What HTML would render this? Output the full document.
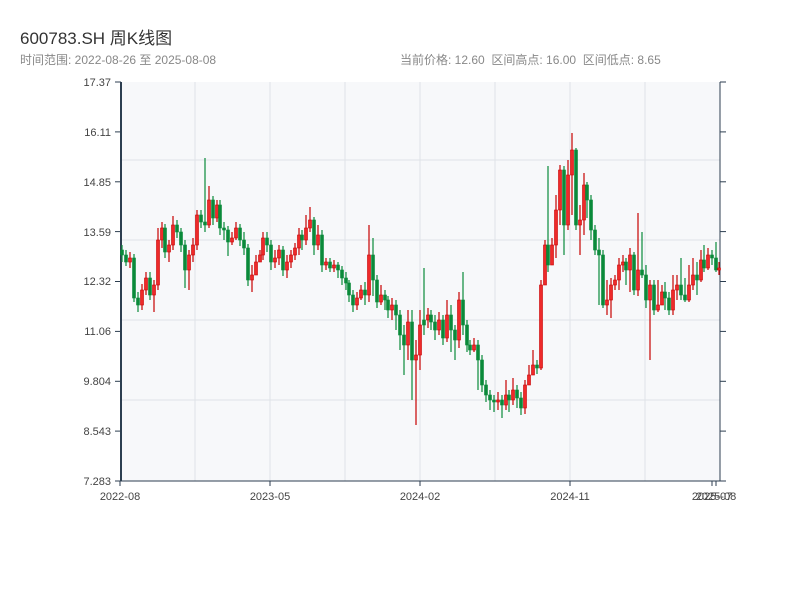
<!DOCTYPE html>
<html><head><meta charset="utf-8"><style>
body{margin:0;background:#fff;width:800px;height:600px;overflow:hidden;font-family:"Liberation Sans","Noto Sans CJK SC",sans-serif;}
.t{position:absolute;left:20px;top:24px;font-size:17px;color:#333;}
.s{position:absolute;top:51px;font-size:12px;color:#888;}
svg{position:absolute;left:0;top:0}
.g line{stroke:#dfe2e8;stroke-width:1}
.ax line{stroke:#2c3e50}
.lab text{font-size:11px;fill:#444}
.R line{stroke:#c80000;stroke-width:1.2}
.R rect{fill:#ee2a2a;stroke:#c80000;stroke-width:0.6}
.G line{stroke:#0a8a3a;stroke-width:1.2}
.G rect{fill:#0a8a3a;stroke:#0a8a3a;stroke-width:0.6}
</style></head><body>
<div class="t">600783.SH 周K线图</div>
<div class="s" style="left:20px">时间范围: 2022-08-26 至 2025-08-08</div>
<div class="s" style="left:400px">当前价格: 12.60 &nbsp;区间高点: 16.00 &nbsp;区间低点: 8.65</div>
<svg width="800" height="600">
<rect x="121" y="82" width="599" height="399" fill="#f7f8fa"/>
<g class="g">
<line x1="121" x2="720" y1="160" y2="160"/><line x1="121" x2="720" y1="240" y2="240"/><line x1="121" x2="720" y1="320" y2="320"/><line x1="121" x2="720" y1="400" y2="400"/>
<line x1="195" x2="195" y1="82" y2="481"/><line x1="270" x2="270" y1="82" y2="481"/><line x1="345" x2="345" y1="82" y2="481"/><line x1="420" x2="420" y1="82" y2="481"/><line x1="495" x2="495" y1="82" y2="481"/><line x1="570" x2="570" y1="82" y2="481"/><line x1="645" x2="645" y1="82" y2="481"/>
</g>
<g class="ax">
<line x1="115" x2="121" y1="82" y2="82"/><line x1="115" x2="121" y1="131.9" y2="131.9"/><line x1="115" x2="121" y1="181.8" y2="181.8"/><line x1="115" x2="121" y1="231.6" y2="231.6"/><line x1="115" x2="121" y1="281.5" y2="281.5"/><line x1="115" x2="121" y1="331.4" y2="331.4"/><line x1="115" x2="121" y1="381.3" y2="381.3"/><line x1="115" x2="121" y1="431.1" y2="431.1"/><line x1="115" x2="121" y1="481" y2="481"/>
<line x1="720" x2="726" y1="82" y2="82"/><line x1="720" x2="726" y1="131.9" y2="131.9"/><line x1="720" x2="726" y1="181.8" y2="181.8"/><line x1="720" x2="726" y1="231.6" y2="231.6"/><line x1="720" x2="726" y1="281.5" y2="281.5"/><line x1="720" x2="726" y1="331.4" y2="331.4"/><line x1="720" x2="726" y1="381.3" y2="381.3"/><line x1="720" x2="726" y1="431.1" y2="431.1"/><line x1="720" x2="726" y1="481" y2="481"/>
<line x1="121" x2="121" y1="82" y2="481" stroke-width="2"/>
<line x1="720" x2="720" y1="82" y2="481"/>
<line x1="121" x2="720" y1="481" y2="481"/>
<line x1="120" x2="120" y1="481" y2="486"/><line x1="270" x2="270" y1="481" y2="486"/><line x1="420" x2="420" y1="481" y2="486"/><line x1="570" x2="570" y1="481" y2="486"/><line x1="712" x2="712" y1="481" y2="486"/><line x1="716" x2="716" y1="481" y2="486"/>
</g>
<g class="lab" text-anchor="end">
<text x="111" y="86">17.37</text><text x="111" y="136">16.11</text><text x="111" y="186">14.85</text><text x="111" y="236">13.59</text><text x="111" y="285">12.32</text><text x="111" y="335">11.06</text><text x="111" y="385">9.804</text><text x="111" y="435">8.543</text><text x="111" y="485">7.283</text>
</g>
<g class="lab" text-anchor="middle">
<text x="120" y="500">2022-08</text><text x="270" y="500">2023-05</text><text x="420" y="500">2024-02</text><text x="570" y="500">2024-11</text><text x="712" y="500">2025-07</text><text x="716" y="500">2025-08</text>
</g>
<g class="G"><line x1="122" x2="122" y1="245" y2="262"/><rect x="120.5" y="250" width="3" height="5"/></g>
<g class="G"><line x1="126" x2="126" y1="250" y2="266"/><rect x="124.5" y="255" width="3" height="7"/></g>
<g class="R"><line x1="130" x2="130" y1="252" y2="268"/><rect x="128.5" y="258" width="3" height="4"/></g>
<g class="G"><line x1="134" x2="134" y1="254" y2="302"/><rect x="132.5" y="258" width="3" height="40"/></g>
<g class="G"><line x1="138" x2="138" y1="292" y2="312"/><rect x="136.5" y="298" width="3" height="7"/></g>
<g class="R"><line x1="142" x2="142" y1="284" y2="310"/><rect x="140.5" y="290" width="3" height="15"/></g>
<g class="R"><line x1="146" x2="146" y1="272" y2="295"/><rect x="144.5" y="278" width="3" height="12"/></g>
<g class="G"><line x1="150" x2="150" y1="272" y2="300"/><rect x="148.5" y="278" width="3" height="17"/></g>
<g class="R"><line x1="154" x2="154" y1="280" y2="312"/><rect x="152.5" y="285" width="3" height="10"/></g>
<g class="R"><line x1="158" x2="158" y1="228" y2="290"/><rect x="156.5" y="240" width="3" height="45"/></g>
<g class="R"><line x1="162" x2="162" y1="222" y2="248"/><rect x="160.5" y="228" width="3" height="12"/></g>
<g class="G"><line x1="165" x2="165" y1="224" y2="258"/><rect x="163.5" y="228" width="3" height="24"/></g>
<g class="R"><line x1="169" x2="169" y1="240" y2="262"/><rect x="167.5" y="245" width="3" height="7"/></g>
<g class="R"><line x1="173" x2="173" y1="216" y2="250"/><rect x="171.5" y="225" width="3" height="20"/></g>
<g class="G"><line x1="177" x2="177" y1="220" y2="238"/><rect x="175.5" y="225" width="3" height="7"/></g>
<g class="G"><line x1="181" x2="181" y1="228" y2="252"/><rect x="179.5" y="232" width="3" height="13"/></g>
<g class="G"><line x1="185" x2="185" y1="240" y2="288"/><rect x="183.5" y="245" width="3" height="25"/></g>
<g class="R"><line x1="189" x2="189" y1="250" y2="290"/><rect x="187.5" y="255" width="3" height="15"/></g>
<g class="R"><line x1="193" x2="193" y1="238" y2="262"/><rect x="191.5" y="245" width="3" height="10"/></g>
<g class="R"><line x1="197" x2="197" y1="210" y2="250"/><rect x="195.5" y="215" width="3" height="30"/></g>
<g class="G"><line x1="201" x2="201" y1="210" y2="228"/><rect x="199.5" y="215" width="3" height="7"/></g>
<g class="G"><line x1="205" x2="205" y1="158" y2="232"/><rect x="203.5" y="222" width="3" height="3"/></g>
<g class="R"><line x1="209" x2="209" y1="186" y2="228"/><rect x="207.5" y="200" width="3" height="25"/></g>
<g class="G"><line x1="213" x2="213" y1="196" y2="225"/><rect x="211.5" y="200" width="3" height="18"/></g>
<g class="R"><line x1="217" x2="217" y1="200" y2="222"/><rect x="215.5" y="205" width="3" height="13"/></g>
<g class="G"><line x1="220" x2="220" y1="200" y2="235"/><rect x="218.5" y="205" width="3" height="23"/></g>
<g class="G"><line x1="224" x2="224" y1="222" y2="240"/><rect x="222.5" y="228" width="3" height="2"/></g>
<g class="G"><line x1="228" x2="228" y1="226" y2="256"/><rect x="226.5" y="230" width="3" height="12"/></g>
<g class="R"><line x1="232" x2="232" y1="232" y2="245"/><rect x="230.5" y="238" width="3" height="4"/></g>
<g class="R"><line x1="236" x2="236" y1="222" y2="240"/><rect x="234.5" y="228" width="3" height="10"/></g>
<g class="G"><line x1="240" x2="240" y1="224" y2="246"/><rect x="238.5" y="228" width="3" height="12"/></g>
<g class="G"><line x1="244" x2="244" y1="232" y2="255"/><rect x="242.5" y="240" width="3" height="8"/></g>
<g class="G"><line x1="248" x2="248" y1="244" y2="286"/><rect x="246.5" y="248" width="3" height="32"/></g>
<g class="R"><line x1="252" x2="252" y1="265" y2="292"/><rect x="250.5" y="275" width="3" height="5"/></g>
<g class="R"><line x1="256" x2="256" y1="255" y2="270"/><rect x="254.5" y="262" width="3" height="13"/></g>
<g class="R"><line x1="260" x2="260" y1="250" y2="262"/><rect x="258.5" y="255" width="3" height="7"/></g>
<g class="R"><line x1="263" x2="263" y1="232" y2="260"/><rect x="261.5" y="238" width="3" height="17"/></g>
<g class="G"><line x1="267" x2="267" y1="232" y2="252"/><rect x="265.5" y="238" width="3" height="7"/></g>
<g class="G"><line x1="271" x2="271" y1="240" y2="270"/><rect x="269.5" y="245" width="3" height="17"/></g>
<g class="R"><line x1="275" x2="275" y1="250" y2="268"/><rect x="273.5" y="258" width="3" height="4"/></g>
<g class="R"><line x1="279" x2="279" y1="245" y2="265"/><rect x="277.5" y="250" width="3" height="8"/></g>
<g class="G"><line x1="283" x2="283" y1="246" y2="276"/><rect x="281.5" y="250" width="3" height="20"/></g>
<g class="R"><line x1="287" x2="287" y1="255" y2="278"/><rect x="285.5" y="262" width="3" height="8"/></g>
<g class="R"><line x1="291" x2="291" y1="250" y2="268"/><rect x="289.5" y="255" width="3" height="7"/></g>
<g class="R"><line x1="295" x2="295" y1="243" y2="260"/><rect x="293.5" y="248" width="3" height="7"/></g>
<g class="R"><line x1="299" x2="299" y1="228" y2="255"/><rect x="297.5" y="235" width="3" height="13"/></g>
<g class="G"><line x1="302" x2="302" y1="230" y2="250"/><rect x="300.5" y="235" width="3" height="5"/></g>
<g class="R"><line x1="306" x2="306" y1="215" y2="245"/><rect x="304.5" y="228" width="3" height="12"/></g>
<g class="R"><line x1="310" x2="310" y1="207" y2="232"/><rect x="308.5" y="220" width="3" height="8"/></g>
<g class="G"><line x1="314" x2="314" y1="217" y2="255"/><rect x="312.5" y="220" width="3" height="25"/></g>
<g class="R"><line x1="318" x2="318" y1="225" y2="250"/><rect x="316.5" y="235" width="3" height="10"/></g>
<g class="G"><line x1="322" x2="322" y1="230" y2="272"/><rect x="320.5" y="235" width="3" height="30"/></g>
<g class="R"><line x1="326" x2="326" y1="258" y2="270"/><rect x="324.5" y="262" width="3" height="3"/></g>
<g class="G"><line x1="330" x2="330" y1="258" y2="272"/><rect x="328.5" y="262" width="3" height="6"/></g>
<g class="R"><line x1="334" x2="334" y1="260" y2="272"/><rect x="332.5" y="265" width="3" height="3"/></g>
<g class="G"><line x1="338" x2="338" y1="262" y2="278"/><rect x="336.5" y="265" width="3" height="5"/></g>
<g class="G"><line x1="342" x2="342" y1="266" y2="285"/><rect x="340.5" y="270" width="3" height="8"/></g>
<g class="G"><line x1="346" x2="346" y1="272" y2="290"/><rect x="344.5" y="278" width="3" height="5"/></g>
<g class="G"><line x1="349" x2="349" y1="280" y2="302"/><rect x="347.5" y="283" width="3" height="12"/></g>
<g class="G"><line x1="353" x2="353" y1="290" y2="312"/><rect x="351.5" y="295" width="3" height="10"/></g>
<g class="R"><line x1="357" x2="357" y1="292" y2="310"/><rect x="355.5" y="298" width="3" height="7"/></g>
<g class="R"><line x1="361" x2="361" y1="285" y2="300"/><rect x="359.5" y="290" width="3" height="8"/></g>
<g class="G"><line x1="365" x2="365" y1="282" y2="305"/><rect x="363.5" y="290" width="3" height="5"/></g>
<g class="R"><line x1="369" x2="369" y1="225" y2="302"/><rect x="367.5" y="255" width="3" height="40"/></g>
<g class="G"><line x1="373" x2="373" y1="238" y2="296"/><rect x="371.5" y="255" width="3" height="25"/></g>
<g class="G"><line x1="377" x2="377" y1="275" y2="308"/><rect x="375.5" y="280" width="3" height="22"/></g>
<g class="R"><line x1="381" x2="381" y1="285" y2="305"/><rect x="379.5" y="295" width="3" height="7"/></g>
<g class="G"><line x1="385" x2="385" y1="290" y2="310"/><rect x="383.5" y="295" width="3" height="5"/></g>
<g class="G"><line x1="388" x2="388" y1="296" y2="318"/><rect x="386.5" y="300" width="3" height="10"/></g>
<g class="R"><line x1="392" x2="392" y1="298" y2="320"/><rect x="390.5" y="305" width="3" height="5"/></g>
<g class="G"><line x1="396" x2="396" y1="300" y2="330"/><rect x="394.5" y="305" width="3" height="10"/></g>
<g class="G"><line x1="400" x2="400" y1="310" y2="350"/><rect x="398.5" y="315" width="3" height="20"/></g>
<g class="G"><line x1="404" x2="404" y1="325" y2="375"/><rect x="402.5" y="335" width="3" height="10"/></g>
<g class="R"><line x1="408" x2="408" y1="310" y2="360"/><rect x="406.5" y="322" width="3" height="23"/></g>
<g class="G"><line x1="412" x2="412" y1="310" y2="400"/><rect x="410.5" y="322" width="3" height="38"/></g>
<g class="R"><line x1="416" x2="416" y1="340" y2="425"/><rect x="414.5" y="355" width="3" height="5"/></g>
<g class="R"><line x1="420" x2="420" y1="310" y2="370"/><rect x="418.5" y="325" width="3" height="30"/></g>
<g class="G"><line x1="424" x2="424" y1="268" y2="335"/><rect x="422.5" y="320" width="3" height="5"/></g>
<g class="R"><line x1="428" x2="428" y1="308" y2="328"/><rect x="426.5" y="315" width="3" height="5"/></g>
<g class="G"><line x1="431" x2="431" y1="310" y2="330"/><rect x="429.5" y="315" width="3" height="7"/></g>
<g class="G"><line x1="435" x2="435" y1="315" y2="340"/><rect x="433.5" y="322" width="3" height="8"/></g>
<g class="R"><line x1="439" x2="439" y1="312" y2="335"/><rect x="437.5" y="320" width="3" height="10"/></g>
<g class="G"><line x1="443" x2="443" y1="315" y2="345"/><rect x="441.5" y="320" width="3" height="18"/></g>
<g class="R"><line x1="447" x2="447" y1="300" y2="342"/><rect x="445.5" y="315" width="3" height="23"/></g>
<g class="G"><line x1="451" x2="451" y1="305" y2="352"/><rect x="449.5" y="315" width="3" height="15"/></g>
<g class="G"><line x1="455" x2="455" y1="325" y2="360"/><rect x="453.5" y="330" width="3" height="10"/></g>
<g class="R"><line x1="459" x2="459" y1="292" y2="348"/><rect x="457.5" y="300" width="3" height="40"/></g>
<g class="G"><line x1="463" x2="463" y1="272" y2="335"/><rect x="461.5" y="300" width="3" height="25"/></g>
<g class="G"><line x1="467" x2="467" y1="320" y2="352"/><rect x="465.5" y="325" width="3" height="20"/></g>
<g class="G"><line x1="470" x2="470" y1="340" y2="355"/><rect x="468.5" y="345" width="3" height="5"/></g>
<g class="R"><line x1="474" x2="474" y1="338" y2="352"/><rect x="472.5" y="345" width="3" height="5"/></g>
<g class="G"><line x1="478" x2="478" y1="340" y2="390"/><rect x="476.5" y="345" width="3" height="15"/></g>
<g class="G"><line x1="482" x2="482" y1="355" y2="392"/><rect x="480.5" y="360" width="3" height="25"/></g>
<g class="G"><line x1="486" x2="486" y1="380" y2="402"/><rect x="484.5" y="385" width="3" height="10"/></g>
<g class="G"><line x1="490" x2="490" y1="390" y2="410"/><rect x="488.5" y="395" width="3" height="5"/></g>
<g class="G"><line x1="494" x2="494" y1="395" y2="412"/><rect x="492.5" y="400" width="3" height="2"/></g>
<g class="R"><line x1="498" x2="498" y1="392" y2="410"/><rect x="496.5" y="400" width="3" height="2"/></g>
<g class="G"><line x1="502" x2="502" y1="395" y2="418"/><rect x="500.5" y="400" width="3" height="5"/></g>
<g class="R"><line x1="506" x2="506" y1="380" y2="410"/><rect x="504.5" y="395" width="3" height="10"/></g>
<g class="G"><line x1="509" x2="509" y1="390" y2="412"/><rect x="507.5" y="395" width="3" height="5"/></g>
<g class="R"><line x1="513" x2="513" y1="378" y2="405"/><rect x="511.5" y="390" width="3" height="10"/></g>
<g class="G"><line x1="517" x2="517" y1="385" y2="408"/><rect x="515.5" y="390" width="3" height="8"/></g>
<g class="G"><line x1="521" x2="521" y1="392" y2="415"/><rect x="519.5" y="398" width="3" height="10"/></g>
<g class="R"><line x1="525" x2="525" y1="380" y2="414"/><rect x="523.5" y="385" width="3" height="23"/></g>
<g class="R"><line x1="529" x2="529" y1="365" y2="380"/><rect x="527.5" y="375" width="3" height="10"/></g>
<g class="R"><line x1="533" x2="533" y1="350" y2="375"/><rect x="531.5" y="365" width="3" height="10"/></g>
<g class="G"><line x1="537" x2="537" y1="360" y2="374"/><rect x="535.5" y="365" width="3" height="3"/></g>
<g class="R"><line x1="541" x2="541" y1="280" y2="370"/><rect x="539.5" y="285" width="3" height="83"/></g>
<g class="R"><line x1="545" x2="545" y1="240" y2="272"/><rect x="543.5" y="245" width="3" height="40"/></g>
<g class="G"><line x1="548" x2="548" y1="166" y2="272"/><rect x="546.5" y="245" width="3" height="20"/></g>
<g class="R"><line x1="552" x2="552" y1="238" y2="260"/><rect x="550.5" y="245" width="3" height="20"/></g>
<g class="R"><line x1="556" x2="556" y1="195" y2="258"/><rect x="554.5" y="210" width="3" height="35"/></g>
<g class="R"><line x1="560" x2="560" y1="165" y2="225"/><rect x="558.5" y="170" width="3" height="40"/></g>
<g class="G"><line x1="564" x2="564" y1="166" y2="255"/><rect x="562.5" y="170" width="3" height="55"/></g>
<g class="R"><line x1="568" x2="568" y1="160" y2="230"/><rect x="566.5" y="175" width="3" height="50"/></g>
<g class="R"><line x1="572" x2="572" y1="133" y2="215"/><rect x="570.5" y="150" width="3" height="25"/></g>
<g class="G"><line x1="576" x2="576" y1="148" y2="230"/><rect x="574.5" y="150" width="3" height="75"/></g>
<g class="R"><line x1="580" x2="580" y1="205" y2="255"/><rect x="578.5" y="220" width="3" height="5"/></g>
<g class="R"><line x1="584" x2="584" y1="173" y2="235"/><rect x="582.5" y="185" width="3" height="35"/></g>
<g class="G"><line x1="587" x2="587" y1="182" y2="218"/><rect x="585.5" y="185" width="3" height="15"/></g>
<g class="G"><line x1="591" x2="591" y1="195" y2="240"/><rect x="589.5" y="200" width="3" height="30"/></g>
<g class="G"><line x1="595" x2="595" y1="225" y2="255"/><rect x="593.5" y="230" width="3" height="20"/></g>
<g class="G"><line x1="599" x2="599" y1="238" y2="305"/><rect x="597.5" y="250" width="3" height="5"/></g>
<g class="G"><line x1="603" x2="603" y1="250" y2="308"/><rect x="601.5" y="255" width="3" height="50"/></g>
<g class="R"><line x1="607" x2="607" y1="280" y2="315"/><rect x="605.5" y="300" width="3" height="5"/></g>
<g class="R"><line x1="611" x2="611" y1="278" y2="318"/><rect x="609.5" y="285" width="3" height="15"/></g>
<g class="R"><line x1="615" x2="615" y1="275" y2="290"/><rect x="613.5" y="280" width="3" height="5"/></g>
<g class="R"><line x1="619" x2="619" y1="258" y2="290"/><rect x="617.5" y="265" width="3" height="15"/></g>
<g class="R"><line x1="623" x2="623" y1="255" y2="272"/><rect x="621.5" y="262" width="3" height="3"/></g>
<g class="G"><line x1="626" x2="626" y1="258" y2="285"/><rect x="624.5" y="262" width="3" height="8"/></g>
<g class="R"><line x1="630" x2="630" y1="248" y2="292"/><rect x="628.5" y="255" width="3" height="15"/></g>
<g class="G"><line x1="634" x2="634" y1="252" y2="295"/><rect x="632.5" y="255" width="3" height="35"/></g>
<g class="R"><line x1="638" x2="638" y1="213" y2="296"/><rect x="636.5" y="270" width="3" height="20"/></g>
<g class="G"><line x1="642" x2="642" y1="232" y2="278"/><rect x="640.5" y="270" width="3" height="5"/></g>
<g class="G"><line x1="646" x2="646" y1="265" y2="308"/><rect x="644.5" y="275" width="3" height="25"/></g>
<g class="R"><line x1="650" x2="650" y1="280" y2="360"/><rect x="648.5" y="285" width="3" height="15"/></g>
<g class="G"><line x1="654" x2="654" y1="280" y2="315"/><rect x="652.5" y="285" width="3" height="25"/></g>
<g class="R"><line x1="658" x2="658" y1="280" y2="312"/><rect x="656.5" y="305" width="3" height="5"/></g>
<g class="R"><line x1="662" x2="662" y1="285" y2="305"/><rect x="660.5" y="292" width="3" height="13"/></g>
<g class="G"><line x1="665" x2="665" y1="282" y2="310"/><rect x="663.5" y="292" width="3" height="6"/></g>
<g class="G"><line x1="669" x2="669" y1="292" y2="315"/><rect x="667.5" y="298" width="3" height="12"/></g>
<g class="R"><line x1="673" x2="673" y1="275" y2="315"/><rect x="671.5" y="290" width="3" height="20"/></g>
<g class="R"><line x1="677" x2="677" y1="275" y2="300"/><rect x="675.5" y="285" width="3" height="5"/></g>
<g class="G"><line x1="681" x2="681" y1="258" y2="300"/><rect x="679.5" y="285" width="3" height="10"/></g>
<g class="G"><line x1="685" x2="685" y1="278" y2="302"/><rect x="683.5" y="295" width="3" height="5"/></g>
<g class="R"><line x1="689" x2="689" y1="265" y2="302"/><rect x="687.5" y="285" width="3" height="15"/></g>
<g class="R"><line x1="693" x2="693" y1="258" y2="290"/><rect x="691.5" y="275" width="3" height="10"/></g>
<g class="G"><line x1="697" x2="697" y1="262" y2="295"/><rect x="695.5" y="275" width="3" height="5"/></g>
<g class="R"><line x1="701" x2="701" y1="250" y2="282"/><rect x="699.5" y="260" width="3" height="20"/></g>
<g class="G"><line x1="704" x2="704" y1="245" y2="272"/><rect x="702.5" y="260" width="3" height="8"/></g>
<g class="R"><line x1="708" x2="708" y1="248" y2="270"/><rect x="706.5" y="255" width="3" height="13"/></g>
<g class="G"><line x1="712" x2="712" y1="250" y2="265"/><rect x="710.5" y="255" width="3" height="3"/></g>
<g class="G"><line x1="716" x2="716" y1="242" y2="272"/><rect x="714.5" y="258" width="3" height="12"/></g>
<g class="R"><line x1="719" x2="719" y1="262" y2="275"/><rect x="717.5" y="268" width="3" height="2"/></g>
</svg>
</body></html>
